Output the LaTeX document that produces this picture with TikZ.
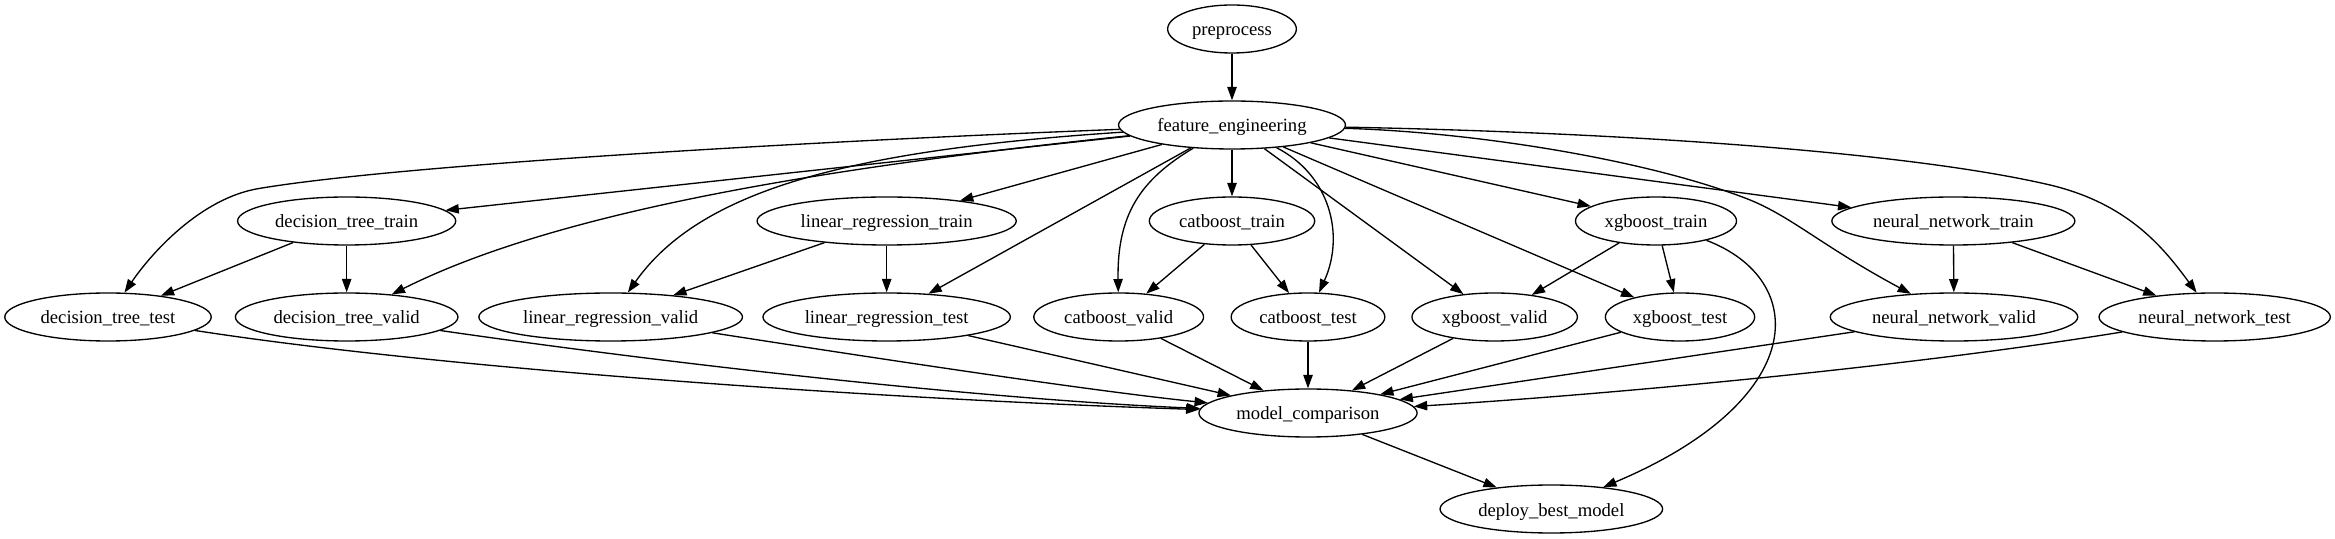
\documentclass[tikz,border=0pt]{standalone}
\usepackage{fontspec}
\setmainfont{Liberation Serif}
\usetikzlibrary{shapes.geometric,arrows.meta}
\begin{document}
\begin{tikzpicture}[>={Triangle[length=10bp,width=7bp]},line join=bevel,line width=1bp,
  task/.style={draw=black,ellipse,minimum height=36bp,inner xsep=4.2bp,inner ysep=0bp,
    text height=13.5bp,text depth=3bp,font=\fontsize{14bp}{16bp}\selectfont}]
%%
\useasboundingbox (0bp,0bp) rectangle (1751.25bp,404.25bp);
\node (preprocess) at (924bp,382.5bp) [task] {preprocess};
  \node (feature_engineering) at (924bp,310.5bp) [task] {feature\_engineering};
  \node (decision_tree_train) at (260bp,238.5bp) [task] {decision\_tree\_train};
  \node (linear_regression_train) at (665bp,238.5bp) [task] {linear\_regression\_train};
  \node (catboost_train) at (924bp,238.5bp) [task] {catboost\_train};
  \node (xgboost_train) at (1242bp,238.5bp) [task] {xgboost\_train};
  \node (neural_network_train) at (1465bp,238.5bp) [task] {neural\_network\_train};
  \node (decision_tree_test) at (81bp,166.5bp) [task] {decision\_tree\_test};
  \node (decision_tree_valid) at (260bp,166.5bp) [task] {decision\_tree\_valid};
  \node (linear_regression_valid) at (458bp,166.5bp) [task] {linear\_regression\_valid};
  \node (linear_regression_test) at (665bp,166.5bp) [task] {linear\_regression\_test};
  \node (catboost_valid) at (839bp,166.5bp) [task] {catboost\_valid};
  \node (catboost_test) at (981bp,166.5bp) [task] {catboost\_test};
  \node (xgboost_valid) at (1121bp,166.5bp) [task] {xgboost\_valid};
  \node (xgboost_test) at (1260bp,166.5bp) [task] {xgboost\_test};
  \node (neural_network_valid) at (1465.5bp,166.5bp) [task] {neural\_network\_valid};
  \node (neural_network_test) at (1661bp,166.5bp) [task] {neural\_network\_test};
  \node (model_comparison) at (981bp,94.5bp) [task] {model\_comparison};
  \node (deploy_best_model) at (1163.5bp,22.5bp) [task] {deploy\_best\_model};
  \draw [->,solid] (preprocess) -- (feature_engineering);
  \draw [->,solid] (feature_engineering) -- (decision_tree_train);
  \draw [->,solid] (feature_engineering) .. controls (600bp,298bp) and (300bp,280.5bp) .. (195bp,263bp) .. controls (150bp,256bp) and (112.5bp,213bp) .. (decision_tree_test);
  \draw [->,solid] (feature_engineering) .. controls (600bp,276.75bp) and (412.5bp,243bp) .. (decision_tree_valid);
  \draw [->,solid] (feature_engineering) .. controls (637.5bp,291.75bp) and (525bp,261.75bp) .. (linear_regression_valid);
  \draw [->,solid] (feature_engineering) -- (linear_regression_train);
  \draw [->,solid] (feature_engineering) -- (linear_regression_test);
  \draw [->,solid] (feature_engineering) .. controls (855bp,269.25bp) and (837.75bp,243bp) .. (catboost_valid);
  \draw [->,solid] (feature_engineering) -- (catboost_train);
  \draw [->,solid] (feature_engineering) .. controls (997.5bp,273bp) and (1008.75bp,228bp) .. (catboost_test);
  \draw [->,solid] (feature_engineering) -- (xgboost_valid);
  \draw [->,solid] (feature_engineering) -- (xgboost_test);
  \draw [->,solid] (feature_engineering) -- (xgboost_train);
  \draw [->,solid] (feature_engineering) -- (neural_network_train);
  \draw [->,solid] (feature_engineering) .. controls (1102.5bp,305.25bp) and (1230bp,285.75bp) .. (1308.75bp,255.75bp) .. controls (1342.5bp,243bp) and (1365bp,220.5bp) .. (neural_network_valid);
  \draw [->,solid] (feature_engineering) .. controls (1200bp,305.25bp) and (1425bp,291.75bp) .. (1537.5bp,265.5bp) .. controls (1597.5bp,251.25bp) and (1623.75bp,216.75bp) .. (neural_network_test);
  \draw [->,solid] (decision_tree_train) -- (decision_tree_test);
  \draw [->,solid] (decision_tree_train) -- (decision_tree_valid);
  \draw [->,solid] (linear_regression_train) -- (linear_regression_valid);
  \draw [->,solid] (linear_regression_train) -- (linear_regression_test);
  \draw [->,solid] (catboost_train) -- (catboost_valid);
  \draw [->,solid] (catboost_train) -- (catboost_test);
  \draw [->,solid] (xgboost_train) -- (xgboost_valid);
  \draw [->,solid] (xgboost_train) -- (xgboost_test);
  \draw [->,solid] (xgboost_train) .. controls (1357.5bp,194.25bp) and (1357.5bp,104.25bp) .. (deploy_best_model);
  \draw [->,solid] (neural_network_train) -- (neural_network_valid);
  \draw [->,solid] (neural_network_train) -- (neural_network_test);
  \draw [->,solid] (decision_tree_test) .. controls (337.5bp,126.75bp) and (675bp,104.25bp) .. (model_comparison);
  \draw [->,solid] (decision_tree_valid) .. controls (525bp,128.25bp) and (750bp,104.25bp) .. (model_comparison);
  \draw [->,solid] (linear_regression_valid) .. controls (675bp,132.75bp) and (825bp,110.25bp) .. (model_comparison);
  \draw [->,solid] (linear_regression_test) -- (model_comparison);
  \draw [->,solid] (catboost_valid) -- (model_comparison);
  \draw [->,solid] (catboost_test) -- (model_comparison);
  \draw [->,solid] (xgboost_valid) -- (model_comparison);
  \draw [->,solid] (xgboost_test) -- (model_comparison);
  \draw [->,solid] (neural_network_valid) -- (model_comparison);
  \draw [->,solid] (neural_network_test) .. controls (1425bp,128.25bp) and (1200bp,108bp) .. (model_comparison);
  \draw [->,solid] (model_comparison) -- (deploy_best_model);
%
\end{tikzpicture}
\end{document}
